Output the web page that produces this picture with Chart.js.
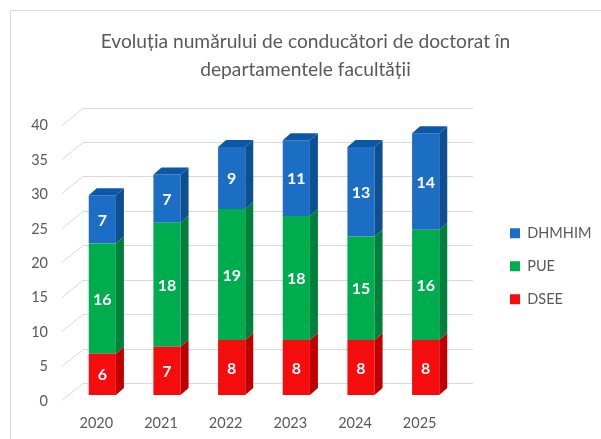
<!DOCTYPE html>
<html>
<head>
<meta charset="utf-8">
<script src="https://cdn.jsdelivr.net/npm/chart.js@4.4.1/dist/chart.umd.min.js"></script>
<style>
  html, body { margin: 0; padding: 0; background: #fff; }
  #wrap { width: 601px; height: 439px; position: relative; }
</style>
</head>
<body>
<div id="wrap"><canvas id="chart" width="601" height="439"></canvas></div>
<script>
// data
const years = ['2020', '2021', '2022', '2023', '2024', '2025'];
const dsee = [6, 7, 8, 8, 8, 8];
const pue = [16, 18, 19, 18, 15, 16];
const dhmhim = [7, 7, 9, 11, 13, 14];
const titleLines = ['Evoluția numărului de conducători de doctorat în', 'departamentele facultății'];

const textGray = '#595959';
const gridGray = '#d9d9d9';
const depthX = 8, depthY = 7;

// fake 3D: back wall gridlines, bar sides and tops, value labels
const box3d = {
  id: 'box3d',
  beforeDraw(chart) {
    const ctx = chart.ctx;
    ctx.save();
    ctx.strokeStyle = gridGray;
    ctx.lineWidth = 1;
    ctx.strokeRect(10.5, 10.5, 620, 460);
    ctx.restore();
  },
  beforeDatasetsDraw(chart) {
    const ctx = chart.ctx;
    const area = chart.chartArea;
    const yScale = chart.scales.y;
    ctx.save();
    ctx.strokeStyle = gridGray;
    ctx.lineWidth = 1;
    yScale.ticks.forEach(t => {
      const py = Math.round(yScale.getPixelForValue(t.value)) + 0.5;
      ctx.beginPath();
      ctx.moveTo(area.left - 8, py + 5);
      ctx.lineTo(area.left + 13, py - 12);
      ctx.lineTo(area.right + 15, py - 12);
      ctx.stroke();
    });
    ctx.restore();
  },
  afterDatasetsDraw(chart) {
    const ctx = chart.ctx;
    const last = chart.data.datasets.length - 1;
    ctx.save();
    chart.data.datasets.forEach((ds, i) => {
      const meta = chart.getDatasetMeta(i);
      meta.data.forEach(bar => {
        const p = bar.getProps(['x', 'y', 'base', 'width'], true);
        const l = p.x - p.width / 2, r = p.x + p.width / 2;
        ctx.fillStyle = ds.sideColor;
        ctx.beginPath();
        ctx.moveTo(r, p.y);
        ctx.lineTo(r + depthX, p.y - depthY);
        ctx.lineTo(r + depthX, p.base - depthY);
        ctx.lineTo(r, p.base);
        ctx.closePath();
        ctx.fill();
        if (i === last) {
          ctx.fillStyle = ds.topColor;
          ctx.beginPath();
          ctx.moveTo(l, p.y);
          ctx.lineTo(r, p.y);
          ctx.lineTo(r + depthX, p.y - depthY);
          ctx.lineTo(l + depthX, p.y - depthY);
          ctx.closePath();
          ctx.fill();
        }
      });
    });
    // value labels
    ctx.fillStyle = '#fff';
    ctx.font = 'bold 16px Lato';
    ctx.textAlign = 'center';
    ctx.textBaseline = 'middle';
    chart.data.datasets.forEach((ds, i) => {
      chart.getDatasetMeta(i).data.forEach((bar, j) => {
        const p = bar.getProps(['x', 'y', 'base'], true);
        ctx.fillText(String(ds.data[j]), p.x, (p.y + p.base) / 2 + 1);
      });
    });
    ctx.restore();
  }
};

new Chart(document.getElementById('chart'), {
  type: 'bar',
  data: {
    labels: years,
    datasets: [
      { label: 'DSEE', data: dsee, backgroundColor: '#f50c0c', sideColor: '#c00000', topColor: '#d40000' },
      { label: 'PUE', data: pue, backgroundColor: '#00ad4e', sideColor: '#00803a', topColor: '#009040' },
      { label: 'DHMHIM', data: dhmhim, backgroundColor: '#1b6ec4', sideColor: '#0e4f92', topColor: '#0c58a6' }
    ]
  },
  options: {
    responsive: false,
    animation: false,
    layout: { padding: { left: 10, right: 0, top: 0, bottom: 8 } },
    datasets: { bar: { barPercentage: 0.42, categoryPercentage: 1, borderWidth: 0 } },
    scales: {
      x: {
        stacked: true,
        grid: { display: false, drawTicks: false },
        border: { display: false },
        ticks: { color: textGray, font: { family: 'Lato', size: 14.5 }, padding: 20, labelOffset: -6 },
        afterFit(s) { s.height = 36; }
      },
      y: {
        stacked: true,
        min: 0,
        max: 40,
        grid: { display: false, drawTicks: false },
        border: { display: false },
        ticks: { stepSize: 5, color: textGray, font: { family: 'Lato', size: 14.5 }, padding: 22, labelOffset: 6 },
        afterFit(s) { s.width = 60; }
      },
      // empty right axis, only keeps a gap before the legend
      gap: {
        position: 'right',
        display: true,
        grid: { display: false, drawTicks: false },
        border: { display: false },
        ticks: { display: false },
        afterFit(s) { s.width = 33.5; }
      }
    },
    plugins: {
      title: {
        display: true,
        text: titleLines,
        color: textGray,
        font: { family: 'Lato', size: 19.2, weight: 'normal', lineHeight: 1.42 },
        padding: { top: 28.5, bottom: 36.5 }
      },
      legend: {
        position: 'right',
        fullSize: false,
        reverse: true,
        maxWidth: 109.5,
        // blank title just pushes the items a little lower
        title: { display: true, text: ' ', font: { size: 10 }, padding: 3 },
        labels: { boxWidth: 10, boxHeight: 10, padding: 18.5, color: textGray, font: { family: 'Lato', size: 14.5 } }
      },
      tooltip: { enabled: false }
    }
  },
  plugins: [box3d]
});
</script>
</body>
</html>
